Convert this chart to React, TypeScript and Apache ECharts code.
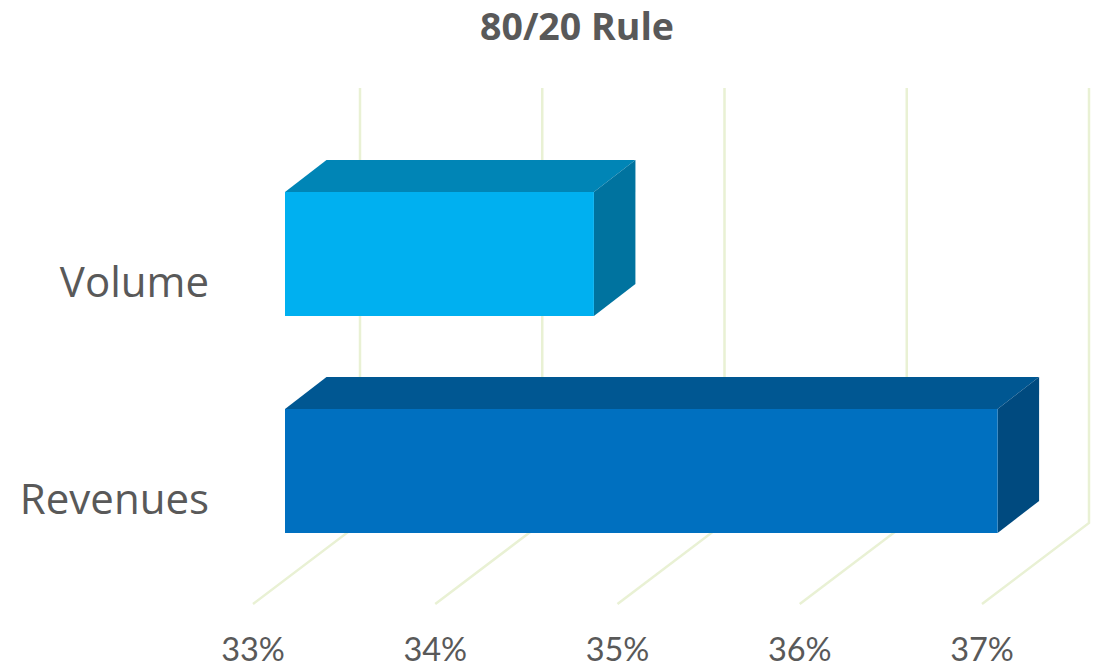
import React, { useEffect, useRef } from "react";
import * as echarts from "echarts";

const titleText = "80/20 Rule";
const categories = ["Revenues", "Volume"];
const shareValues = [36.91, 34.695];
const axisTicks = [33, 34, 35, 36, 37];

const frontColors = ["#0070C0", "#00B0F0"];
const topColors = ["#005792", "#0085B6"];
const sideColors = ["#004A7F", "#00739F"];
const gridColor = "#E9F1D4";
const textColor = "#595959";
const fontFamily = "'Open Sans', sans-serif";
const tickFontFamily = "Lato, sans-serif";

// Projection of the 3D box: depth direction and the bar's shift off the category centre.
const BAR_DEPTH_X = 41.5;
const BAR_DEPTH_Y = -32;
const BAR_INSET_X = 32;
const BAR_SHIFT_Y = -26;
const BAR_BAND_RATIO = 0.571;

// Wall and floor of the 3D plot area.
const FLOOR_DEPTH_X = 107;
const FLOOR_DEPTH_Y = -81;
const FLOOR_FRONT_Y = 604;
const WALL_TOP_Y = 88;

const renderGridLine = (_params: any, api: any) => {
  const x = api.coord([api.value(0), 0])[0];
  return {
    type: "polyline",
    shape: {
      points: [
        [x, FLOOR_FRONT_Y],
        [x + FLOOR_DEPTH_X, FLOOR_FRONT_Y + FLOOR_DEPTH_Y],
        [x + FLOOR_DEPTH_X, WALL_TOP_Y],
      ],
    },
    style: { stroke: gridColor, lineWidth: 2.5, fill: "none" },
  };
};

const renderBox = (params: any, api: any) => {
  const i = params.dataIndex;
  const start = api.coord([axisTicks[0], api.value(1)]);
  const end = api.coord([api.value(0), api.value(1)]);
  const height = api.size([0, 1])[1] * BAR_BAND_RATIO;
  const left = start[0] + BAR_INSET_X;
  const right = end[0] + BAR_INSET_X;
  const top = start[1] + BAR_SHIFT_Y - height / 2;
  const bottom = top + height;
  return {
    type: "group",
    children: [
      {
        type: "polygon",
        shape: {
          points: [
            [left, top],
            [right, top],
            [right + BAR_DEPTH_X, top + BAR_DEPTH_Y],
            [left + BAR_DEPTH_X, top + BAR_DEPTH_Y],
          ],
        },
        style: { fill: topColors[i] },
      },
      {
        type: "polygon",
        shape: {
          points: [
            [right, top],
            [right + BAR_DEPTH_X, top + BAR_DEPTH_Y],
            [right + BAR_DEPTH_X, bottom + BAR_DEPTH_Y],
            [right, bottom],
          ],
        },
        style: { fill: sideColors[i] },
      },
      {
        type: "rect",
        shape: { x: left, y: top, width: right - left, height },
        style: { fill: frontColors[i] },
      },
    ],
  };
};

export default function App() {
  const ref = useRef<HTMLDivElement>(null);

  useEffect(() => {
    if (!ref.current) return;
    const chart = echarts.init(ref.current, undefined, { renderer: "svg" });
    chart.setOption({
      animation: false,
      backgroundColor: "#FFFFFF",
      title: {
        text: titleText,
        left: 572,
        top: 1,
        textAlign: "center",
        textStyle: { color: textColor, fontFamily, fontSize: 37.5, fontWeight: 700 },
      },
      grid: { left: 253, width: 729, top: 171.5, height: 434 },
      xAxis: {
        type: "value",
        min: axisTicks[0],
        max: axisTicks[axisTicks.length - 1],
        interval: 1,
        axisLine: { show: false },
        axisTick: { show: false },
        splitLine: { show: false },
        axisLabel: {
          formatter: "{value}%",
          color: textColor,
          fontFamily: tickFontFamily,
          fontSize: 32.5,
          lineHeight: 32,
          margin: 27,
        },
      },
      yAxis: {
        type: "category",
        data: categories,
        axisLine: { show: false },
        axisTick: { show: false },
        axisLabel: {
          color: textColor,
          fontFamily,
          fontSize: 42,
          margin: 44,
          padding: [0, 0, 3, 0],
        },
      },
      series: [
        {
          type: "custom",
          z: 1,
          silent: true,
          renderItem: renderGridLine,
          data: axisTicks.map((t) => [t, 0]),
          encode: { x: 0, y: 1 },
        },
        {
          type: "custom",
          z: 2,
          silent: true,
          renderItem: renderBox,
          data: shareValues.map((v, i) => [v, i]),
          encode: { x: 0, y: 1 },
        },
      ],
    });
    return () => chart.dispose();
  }, []);

  return (
    <div
      ref={ref}
      style={{ position: "absolute", left: 0, top: 0, width: 1102, height: 667 }}
    />
  );
}
